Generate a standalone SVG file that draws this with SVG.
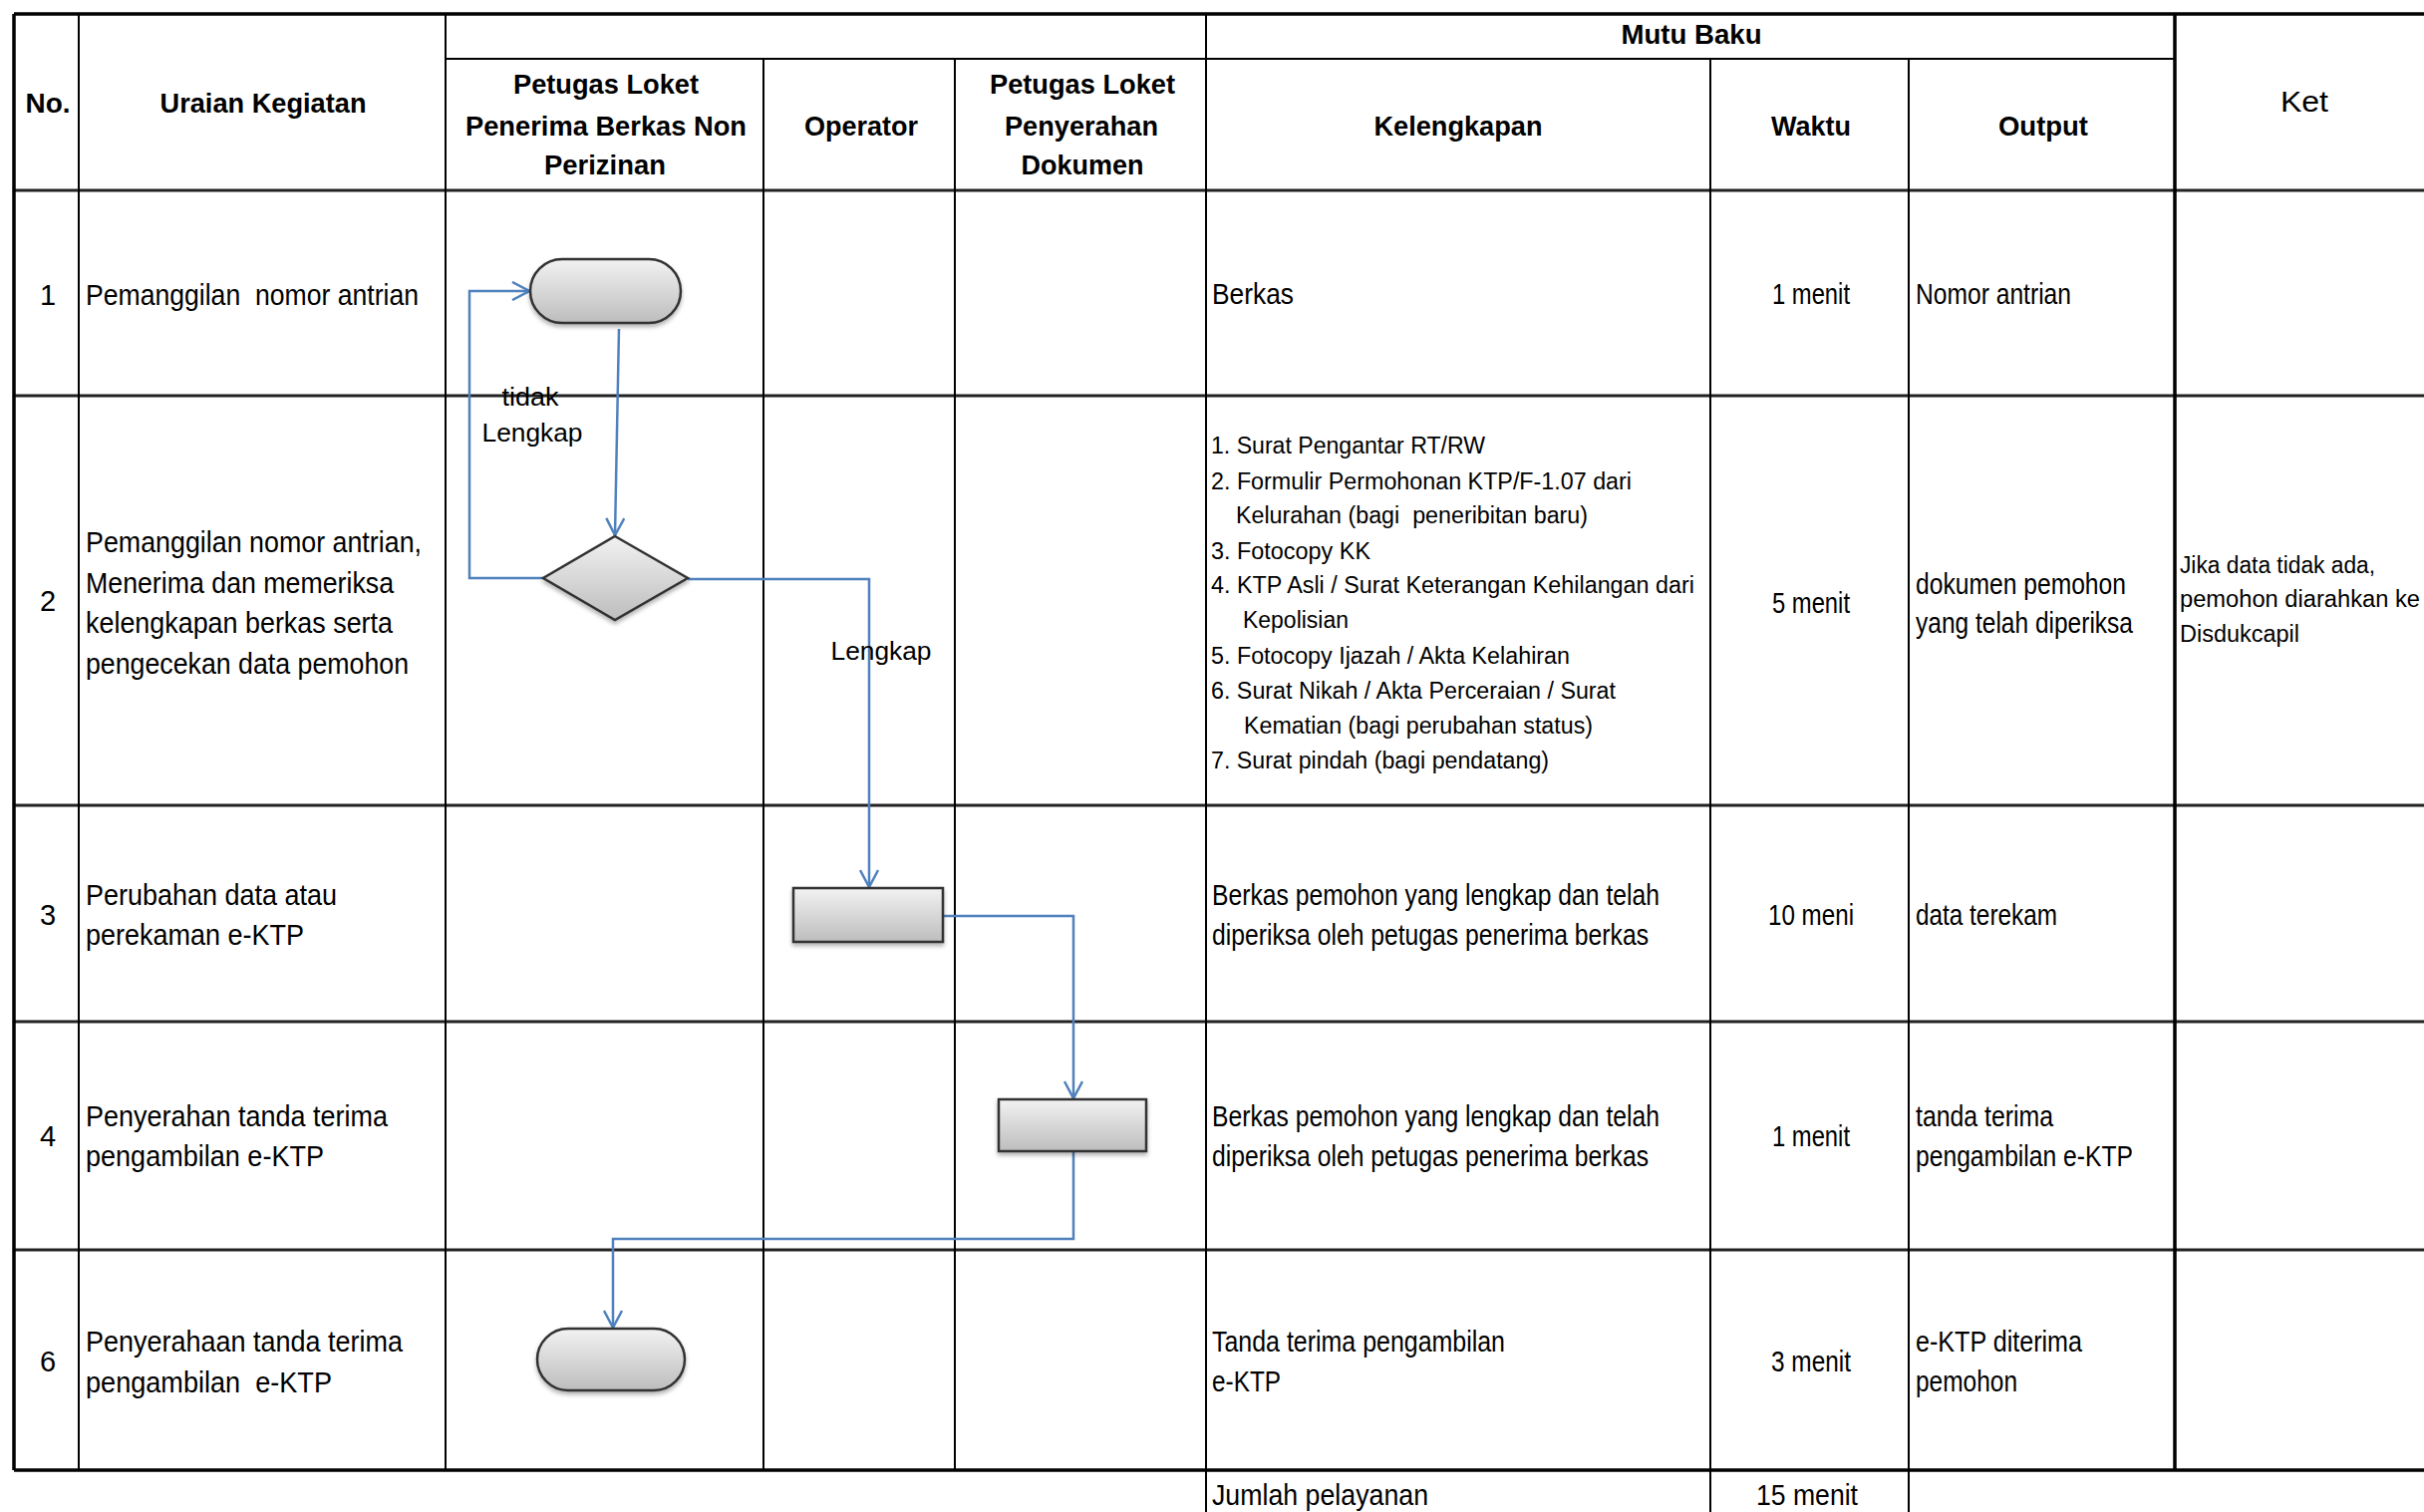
<svg xmlns="http://www.w3.org/2000/svg" width="2432" height="1517" viewBox="0 0 2432 1517">
<style>
text{font-family:"Liberation Sans",Arial,sans-serif;fill:#000}
.h{font-size:27px;font-weight:bold;text-anchor:middle}
.b{font-size:29px}
.m{text-anchor:middle}
.s{font-size:23px}
.lb{font-size:26px;text-anchor:middle}
.thick{stroke:#000;stroke-width:3.5;fill:none}
.row{stroke:#222;stroke-width:3;fill:none}
.thin{stroke:#000;stroke-width:2;fill:none}
.conn{stroke:#4F81BD;stroke-width:2.5;fill:none}
.shape{fill:url(#g);stroke:#333;stroke-width:2.5;filter:url(#sh)}
</style>
<defs>
<linearGradient id="g" x1="0" y1="0" x2="0" y2="1">
<stop offset="0" stop-color="#f2f2f2"/>
<stop offset="1" stop-color="#bdbdbd"/>
</linearGradient>
<filter id="sh" x="-10%" y="-10%" width="120%" height="140%">
<feDropShadow dx="0" dy="3" stdDeviation="2" flood-color="#000" flood-opacity="0.3"/>
</filter>
<marker id="arr" viewBox="0 0 20 20" refX="19" refY="10" markerWidth="20" markerHeight="20" markerUnits="userSpaceOnUse" orient="auto">
<path d="M2,1 L19,10 L2,19" fill="none" stroke="#4F81BD" stroke-width="2.5"/>
</marker>
</defs>
<rect width="2432" height="1517" fill="#fff"/>

<g id="table">
<path class="thin" d="M447,59 H2182"/>
<path class="row" d="M14,191 H2432 M14,397 H2432 M14,808 H2432 M14,1025 H2432 M14,1254 H2432"/>
<path class="thin" d="M79,14 V1475 M447,14 V1475 M766,59 V1475 M958,59 V1475 M1210,14 V1517 M1716,59 V1517 M1915,59 V1517"/>
<path class="thick" d="M14,14 H2432 M14,14 V1475 M14,1475 H2432 M2182,14 V1475"/>
</g>

<g id="header">
<text class="h" x="48" y="113" textLength="45" lengthAdjust="spacingAndGlyphs">No.</text>
<text class="h" x="264" y="113" textLength="207" lengthAdjust="spacingAndGlyphs">Uraian Kegiatan</text>
<text class="h" x="608" y="94" textLength="186" lengthAdjust="spacingAndGlyphs">Petugas Loket</text>
<text class="h" x="608" y="136" textLength="282" lengthAdjust="spacingAndGlyphs">Penerima Berkas Non</text>
<text class="h" x="607" y="175" textLength="122" lengthAdjust="spacingAndGlyphs">Perizinan</text>
<text class="h" x="864" y="136" textLength="114" lengthAdjust="spacingAndGlyphs">Operator</text>
<text class="h" x="1086" y="94" textLength="186" lengthAdjust="spacingAndGlyphs">Petugas Loket</text>
<text class="h" x="1085" y="136" textLength="154" lengthAdjust="spacingAndGlyphs">Penyerahan</text>
<text class="h" x="1086" y="175" textLength="123" lengthAdjust="spacingAndGlyphs">Dokumen</text>
<text class="h" x="1697" y="44" textLength="141" lengthAdjust="spacingAndGlyphs">Mutu Baku</text>
<text class="h" x="1463" y="136" textLength="169" lengthAdjust="spacingAndGlyphs">Kelengkapan</text>
<text class="h" x="1817" y="136" textLength="80" lengthAdjust="spacingAndGlyphs">Waktu</text>
<text class="h" x="2050" y="136" textLength="90" lengthAdjust="spacingAndGlyphs">Output</text>
<text class="m" x="2312" y="112" font-size="30" textLength="48" lengthAdjust="spacingAndGlyphs">Ket</text>
</g>

<g id="numbers" class="b">
<text class="m" x="48" y="306">1</text>
<text class="m" x="48" y="613">2</text>
<text class="m" x="48" y="928">3</text>
<text class="m" x="48" y="1150">4</text>
<text class="m" x="48" y="1376">6</text>
</g>

<g id="uraian" class="b">
<text x="86" y="306" xml:space="preserve" textLength="334" lengthAdjust="spacingAndGlyphs">Pemanggilan  nomor antrian</text>
<text x="86" y="554" textLength="337" lengthAdjust="spacingAndGlyphs">Pemanggilan nomor antrian,</text>
<text x="86" y="595" textLength="309" lengthAdjust="spacingAndGlyphs">Menerima dan memeriksa</text>
<text x="86" y="635" textLength="308" lengthAdjust="spacingAndGlyphs">kelengkapan berkas serta</text>
<text x="86" y="676" textLength="324" lengthAdjust="spacingAndGlyphs">pengecekan data pemohon</text>
<text x="86" y="908" textLength="252" lengthAdjust="spacingAndGlyphs">Perubahan data atau</text>
<text x="86" y="948" textLength="219" lengthAdjust="spacingAndGlyphs">perekaman e-KTP</text>
<text x="86" y="1130" textLength="303" lengthAdjust="spacingAndGlyphs">Penyerahan tanda terima</text>
<text x="86" y="1170" textLength="239" lengthAdjust="spacingAndGlyphs">pengambilan e-KTP</text>
<text x="86" y="1356" textLength="318" lengthAdjust="spacingAndGlyphs">Penyerahaan tanda terima</text>
<text x="86" y="1397" xml:space="preserve" textLength="247" lengthAdjust="spacingAndGlyphs">pengambilan  e-KTP</text>
</g>

<g id="kelengkapan">
<text class="b" x="1216" y="305" textLength="82" lengthAdjust="spacingAndGlyphs">Berkas</text>
<g class="s">
<text x="1215" y="455" textLength="275" lengthAdjust="spacingAndGlyphs">1. Surat Pengantar RT/RW</text>
<text x="1215" y="491" textLength="422" lengthAdjust="spacingAndGlyphs">2. Formulir Permohonan KTP/F-1.07 dari</text>
<text x="1240" y="525" xml:space="preserve" textLength="353" lengthAdjust="spacingAndGlyphs">Kelurahan (bagi  peneribitan baru)</text>
<text x="1215" y="561" textLength="160" lengthAdjust="spacingAndGlyphs">3. Fotocopy KK</text>
<text x="1215" y="595" textLength="485" lengthAdjust="spacingAndGlyphs">4. KTP Asli / Surat Keterangan Kehilangan dari</text>
<text x="1247" y="630" textLength="106" lengthAdjust="spacingAndGlyphs">Kepolisian</text>
<text x="1215" y="666" textLength="360" lengthAdjust="spacingAndGlyphs">5. Fotocopy Ijazah / Akta Kelahiran</text>
<text x="1215" y="701" textLength="406" lengthAdjust="spacingAndGlyphs">6. Surat Nikah / Akta Perceraian / Surat</text>
<text x="1248" y="736" textLength="350" lengthAdjust="spacingAndGlyphs">Kematian (bagi perubahan status)</text>
<text x="1215" y="771" textLength="339" lengthAdjust="spacingAndGlyphs">7. Surat pindah (bagi pendatang)</text>
</g>
<g class="b">
<text x="1216" y="908" textLength="449" lengthAdjust="spacingAndGlyphs">Berkas pemohon yang lengkap dan telah</text>
<text x="1216" y="948" textLength="438" lengthAdjust="spacingAndGlyphs">diperiksa oleh petugas penerima berkas</text>
<text x="1216" y="1130" textLength="449" lengthAdjust="spacingAndGlyphs">Berkas pemohon yang lengkap dan telah</text>
<text x="1216" y="1170" textLength="438" lengthAdjust="spacingAndGlyphs">diperiksa oleh petugas penerima berkas</text>
<text x="1216" y="1356" textLength="294" lengthAdjust="spacingAndGlyphs">Tanda terima pengambilan</text>
<text x="1216" y="1396" textLength="69" lengthAdjust="spacingAndGlyphs">e-KTP</text>
<text x="1216" y="1510" textLength="217" lengthAdjust="spacingAndGlyphs">Jumlah pelayanan</text>
</g>
</g>

<g id="waktu" class="b">
<text class="m" x="1817" y="305" textLength="78" lengthAdjust="spacingAndGlyphs">1 menit</text>
<text class="m" x="1817" y="615" textLength="78" lengthAdjust="spacingAndGlyphs">5 menit</text>
<text class="m" x="1817" y="928" textLength="86" lengthAdjust="spacingAndGlyphs">10 meni</text>
<text class="m" x="1817" y="1150" textLength="78" lengthAdjust="spacingAndGlyphs">1 menit</text>
<text class="m" x="1817" y="1376" textLength="80" lengthAdjust="spacingAndGlyphs">3 menit</text>
<text class="m" x="1813" y="1510" textLength="102" lengthAdjust="spacingAndGlyphs">15 menit</text>
</g>

<g id="output" class="b">
<text x="1922" y="305" textLength="156" lengthAdjust="spacingAndGlyphs">Nomor antrian</text>
<text x="1922" y="596" textLength="211" lengthAdjust="spacingAndGlyphs">dokumen pemohon</text>
<text x="1922" y="635" textLength="218" lengthAdjust="spacingAndGlyphs">yang telah diperiksa</text>
<text x="1922" y="928" textLength="142" lengthAdjust="spacingAndGlyphs">data terekam</text>
<text x="1922" y="1130" textLength="138" lengthAdjust="spacingAndGlyphs">tanda terima</text>
<text x="1922" y="1170" textLength="218" lengthAdjust="spacingAndGlyphs">pengambilan e-KTP</text>
<text x="1922" y="1356" textLength="167" lengthAdjust="spacingAndGlyphs">e-KTP diterima</text>
<text x="1922" y="1396" textLength="102" lengthAdjust="spacingAndGlyphs">pemohon</text>
</g>

<g id="ket" class="s">
<text x="2187" y="575" textLength="196" lengthAdjust="spacingAndGlyphs">Jika data tidak ada,</text>
<text x="2187" y="609" textLength="241" lengthAdjust="spacingAndGlyphs">pemohon diarahkan ke</text>
<text x="2187" y="644" textLength="120" lengthAdjust="spacingAndGlyphs">Disdukcapil</text>
</g>

<g id="connectors">
<path class="conn" d="M621,330 L617,537" marker-end="url(#arr)"/>
<path class="conn" d="M545,580 H471 V292 H531" marker-end="url(#arr)"/>
<path class="conn" d="M690,581 H872 V890" marker-end="url(#arr)"/>
<path class="conn" d="M946,919 H1077 V1102" marker-end="url(#arr)"/>
<path class="conn" d="M1077,1156 V1243 H615 V1332" marker-end="url(#arr)"/>
<text class="lb" x="532" y="407" textLength="57" lengthAdjust="spacingAndGlyphs">tidak</text>
<text class="lb" x="534" y="443" textLength="101" lengthAdjust="spacingAndGlyphs">Lengkap</text>
<text class="lb" x="884" y="662" textLength="101" lengthAdjust="spacingAndGlyphs">Lengkap</text>
</g>

<g id="node-start">
<rect class="shape" x="532" y="260" width="151" height="64" rx="32" ry="32"/>
</g>
<g id="node-decision">
<polygon class="shape" points="617,538 690,580 617,622 545,580"/>
</g>
<g id="node-perekaman">
<rect class="shape" x="796" y="891" width="150" height="54"/>
</g>
<g id="node-penyerahan">
<rect class="shape" x="1002" y="1103" width="148" height="52"/>
</g>
<g id="node-end">
<rect class="shape" x="539" y="1333" width="148" height="62" rx="31" ry="31"/>
</g>
</svg>
